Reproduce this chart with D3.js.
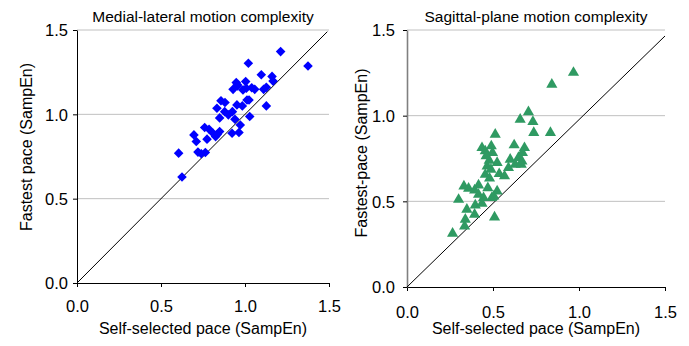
<!DOCTYPE html>
<html>
<head>
<meta charset="utf-8">
<script src="https://cdn.jsdelivr.net/npm/d3@7"></script>
<style>
  body { margin: 0; background: #fff; }
  svg text { font-family: "Liberation Sans", Arial, sans-serif; fill: #000; }
</style>
</head>
<body>
<svg id="viz" width="689" height="346"></svg>
<script>
// medial-lateral panel (self-selected vs fastest pace SampEn)
const mlSelf = [0.605, 0.625, 1.212, 1.375, 1.020, 1.097, 1.161, 1.167, 1.127, 1.111, 1.058, 1.040, 1.004, 0.948,
  0.929, 0.956, 0.988, 1.008, 1.024, 1.012, 0.984, 0.952, 1.127, 1.028, 0.857, 0.881, 0.833, 0.879, 0.901, 0.925,
  0.849, 0.940, 0.972, 0.923, 0.964, 0.696, 0.710, 0.760, 0.786, 0.774, 0.810, 0.825, 0.849, 0.720, 0.740, 0.764,
  0.835, 0.955];
const mlFast = [0.770, 0.628, 1.372, 1.287, 1.303, 1.235, 1.225, 1.197, 1.160, 1.148, 1.148, 1.158, 1.194, 1.188,
  1.148, 1.168, 1.145, 1.155, 1.085, 1.085, 1.050, 1.056, 1.050, 0.987, 1.081, 1.070, 1.036, 1.016, 0.997, 1.016,
  0.979, 0.971, 0.937, 0.888, 0.892, 0.878, 0.839, 0.922, 0.912, 0.853, 0.888, 0.868, 0.898, 0.776, 0.766, 0.774,
  0.880, 1.175];

// sagittal-plane panel
const sagSelf = [0.968, 0.842, 0.706, 0.658, 0.732, 0.737, 0.834, 0.513, 0.436, 0.490, 0.455, 0.497, 0.623, 0.683,
  0.671, 0.600, 0.648, 0.668, 0.629, 0.590, 0.664, 0.524, 0.478, 0.466, 0.488, 0.455, 0.536, 0.567, 0.470, 0.416,
  0.331, 0.358, 0.393, 0.416, 0.445, 0.493, 0.524, 0.505, 0.300, 0.397, 0.436, 0.348, 0.393, 0.339, 0.335, 0.509,
  0.265, 0.480, 0.460];
const sagFast = [1.257, 1.188, 1.027, 0.984, 0.970, 0.906, 0.906, 0.896, 0.818, 0.828, 0.799, 0.789, 0.834, 0.818,
  0.789, 0.750, 0.760, 0.740, 0.721, 0.701, 0.721, 0.731, 0.744, 0.711, 0.692, 0.662, 0.666, 0.653, 0.584, 0.600,
  0.594, 0.581, 0.571, 0.545, 0.526, 0.526, 0.565, 0.536, 0.516, 0.483, 0.493, 0.458, 0.429, 0.400, 0.360, 0.413,
  0.318, 0.640, 0.770];

const ticks = [0, 0.5, 1.0, 1.5];
const gridVals = [0.5, 1.0, 1.5];
const mlLine = [[0, 0], [1.49, 1.49]];
const sagLine = [[0, 0], [1.5, 1.465]];

const panels = [
  { title: "Medial-lateral motion complexity", ylab: "Fastest pace (SampEn)", xlab: "Self-selected pace (SampEn)",
    xs: mlSelf, ys: mlFast, line: mlLine, left: 77, right: 329, top: 30, bottom: 283,
    color: "#0000ff", shape: "diamond", axisColor: "#000", axisW: 1,
    titleY: 22, xlabY: 334, ylabX: 26, ylabY: 147, xtickY: 312, ytickX: -9 },
  { title: "Sagittal-plane motion complexity", ylab: "Fastest-pace (SampEn)", xlab: "Self-selected pace (SampEn)",
    xs: sagSelf, ys: sagFast, line: sagLine, left: 407, right: 665, top: 30, bottom: 287,
    color: "#2f9a62", shape: "triangle", axisColor: "#808080", axisW: 1.6,
    titleY: 22, xlabY: 334, ylabX: 361, ylabY: 153, xtickY: 318, ytickX: -12 }
];

const svg = d3.select("#viz");

panels.forEach(p => {
  const x = d3.scaleLinear().domain([0, 1.5]).range([p.left, p.right]);
  const y = d3.scaleLinear().domain([0, 1.5]).range([p.bottom, p.top]);
  const g = svg.append("g");

  // gridlines
  g.selectAll(".grid").data(gridVals).join("line")
    .attr("x1", p.left).attr("x2", p.right)
    .attr("y1", d => y(d)).attr("y2", d => y(d))
    .attr("stroke", "#c0c0c0").attr("stroke-width", 1);

  // axes
  const xa = g.append("g").attr("transform", `translate(0,${p.bottom})`)
    .call(d3.axisBottom(x).tickValues(ticks).tickFormat(d3.format(".1f")).tickSize(4).tickSizeOuter(0));
  const ya = g.append("g").attr("transform", `translate(${p.left},0)`)
    .call(d3.axisLeft(y).tickValues(ticks).tickFormat(d3.format(".1f")).tickSize(4).tickSizeOuter(0));
  xa.select(".domain").attr("stroke", "#000");
  ya.select(".domain").attr("stroke", p.axisColor).attr("stroke-width", p.axisW);
  xa.selectAll("text").attr("font-size", 16.5).attr("y", null).attr("dy", null)
    .attr("transform", `translate(0,${p.xtickY - p.bottom})`);
  ya.selectAll("text").attr("font-size", 16.5).attr("x", p.ytickX).attr("dy", "0.36em");
  xa.selectAll(".tick line").attr("stroke", "#000");
  ya.selectAll(".tick line").attr("stroke", "#000");

  // identity line
  g.append("line")
    .attr("x1", x(p.line[0][0])).attr("y1", y(p.line[0][1]))
    .attr("x2", x(p.line[1][0])).attr("y2", y(p.line[1][1]))
    .attr("stroke", "#000").attr("stroke-width", 1);

  // markers
  const pts = p.xs.map((v, i) => [v, p.ys[i]]);
  const sym = p.shape === "diamond"
    ? d3.symbol().type(d3.symbolSquare).size(46)
    : d3.symbol().type(d3.symbolTriangle).size(54);
  g.selectAll(".pt").data(pts).join("path")
    .attr("d", sym)
    .attr("fill", p.color)
    .attr("transform", d => `translate(${x(d[0])},${y(d[1])})` + (p.shape === "diamond" ? " rotate(45)" : " translate(0,1)"));

  // titles
  g.append("text").attr("x", (p.left + p.right) / 2 + (p.shape === "diamond" ? 0 : 0))
    .attr("y", p.titleY).attr("text-anchor", "middle").attr("font-size", 15.5).text(p.title);
  g.append("text").attr("x", (p.left + p.right) / 2).attr("y", p.xlabY)
    .attr("text-anchor", "middle").attr("font-size", 16).text(p.xlab);
  g.append("text").attr("transform", `translate(${p.ylabX},${p.ylabY}) rotate(-90)`)
    .attr("text-anchor", "middle").attr("dy", "0.35em").attr("font-size", 16).text(p.ylab);
});
</script>
</body>
</html>
